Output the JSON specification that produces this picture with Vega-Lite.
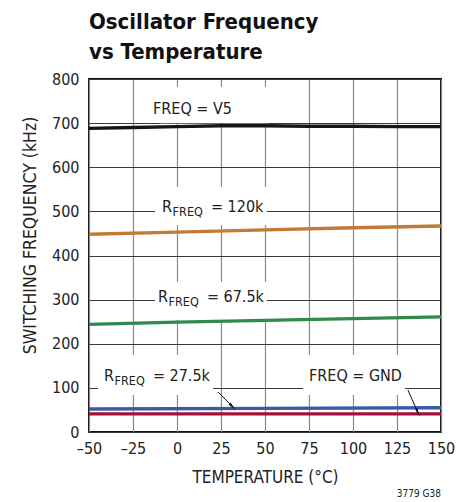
{
  "$schema": "https://vega.github.io/schema/vega-lite/v6.json",
  "width": 352,
  "height": 353,
  "autosize": "none",
  "padding": {"left": 89, "top": 79, "right": 30, "bottom": 70},
  "background": "white",
  "config": {
    "font": "DejaVu Sans Condensed, Roboto, sans-serif",
    "view": {"stroke": "#111", "strokeWidth": 2},
    "axis": {"labelFont": "DejaVu Sans Condensed, Roboto, sans-serif", "titleFont": "DejaVu Sans Condensed, Roboto, sans-serif", "labelColor": "#222", "titleColor": "#222", "titleFontWeight": "normal", "labelFontSize": 16, "titleFontSize": 17, "domain": false, "ticks": false, "labelFlush": false, "labelOverlap": false, "labelBound": false}
  },
  "title": {
    "text": ["Oscillator Frequency", "vs Temperature"],
    "anchor": "start",
    "frame": "group",
    "font": "DejaVu Sans Condensed, Roboto, sans-serif",
    "fontSize": 22,
    "fontWeight": "bold",
    "color": "#111",
    "lineHeight": 30,
    "offset": 7
  },
  "datasets": {
    "curves": [
      {"series": "FREQ = V5", "t": -50, "f": 688},
      {"series": "FREQ = V5", "t": -25, "f": 690},
      {"series": "FREQ = V5", "t": 0, "f": 692},
      {"series": "FREQ = V5", "t": 25, "f": 694},
      {"series": "FREQ = V5", "t": 50, "f": 694},
      {"series": "FREQ = V5", "t": 75, "f": 693},
      {"series": "FREQ = V5", "t": 100, "f": 693},
      {"series": "FREQ = V5", "t": 125, "f": 692},
      {"series": "FREQ = V5", "t": 150, "f": 692},
      {"series": "RFREQ = 120k", "t": -50, "f": 448},
      {"series": "RFREQ = 120k", "t": 0, "f": 453},
      {"series": "RFREQ = 120k", "t": 50, "f": 458},
      {"series": "RFREQ = 120k", "t": 100, "f": 463},
      {"series": "RFREQ = 120k", "t": 150, "f": 467},
      {"series": "RFREQ = 67.5k", "t": -50, "f": 244},
      {"series": "RFREQ = 67.5k", "t": 0, "f": 249},
      {"series": "RFREQ = 67.5k", "t": 50, "f": 253},
      {"series": "RFREQ = 67.5k", "t": 100, "f": 257},
      {"series": "RFREQ = 67.5k", "t": 150, "f": 261},
      {"series": "RFREQ = 27.5k", "t": -50, "f": 52},
      {"series": "RFREQ = 27.5k", "t": 50, "f": 53.5},
      {"series": "RFREQ = 27.5k", "t": 150, "f": 55},
      {"series": "FREQ = GND", "t": -50, "f": 41},
      {"series": "FREQ = GND", "t": 50, "f": 41},
      {"series": "FREQ = GND", "t": 150, "f": 41}
    ],
    "boxes": [
      {"x": -10, "x2": 52, "y": 700, "y2": 782},
      {"x": -12.5, "x2": 51, "y": 469, "y2": 555},
      {"x": -12.5, "x2": 51, "y": 254, "y2": 340},
      {"x": -44.9, "x2": 20.5, "y": 84, "y2": 175},
      {"x": 71.6, "x2": 129.5, "y": 84, "y2": 175}
    ],
    "labels": [
      {"kind": "main", "text": "FREQ = V5", "x": -13.6, "y": 732},
      {"kind": "main", "text": "R", "x": -8.5, "y": 510},
      {"kind": "sub", "text": "FREQ", "x": -2.5, "y": 510},
      {"kind": "main", "text": "= 120k", "x": 19.3, "y": 510},
      {"kind": "main", "text": "R", "x": -10.8, "y": 306},
      {"kind": "sub", "text": "FREQ", "x": -4.8, "y": 306},
      {"kind": "main", "text": "= 67.5k", "x": 17, "y": 306},
      {"kind": "main", "text": "R", "x": -41.5, "y": 127},
      {"kind": "sub", "text": "FREQ", "x": -35.5, "y": 127},
      {"kind": "main", "text": "= 27.5k", "x": -13.7, "y": 127},
      {"kind": "main", "text": "FREQ = GND", "x": 75, "y": 127}
    ],
    "arrows": [
      {"name": "a", "x": 23.3, "y": 90.7, "x2": 31.8, "y2": 56.7},
      {"name": "b", "x": 131.2, "y": 95, "x2": 137, "y2": 43}
    ]
  },
  "layer": [
    {
      "data": {"name": "boxes"},
      "mark": {"type": "rect", "color": "white"},
      "encoding": {
        "x": {"field": "x", "type": "quantitative", "scale": {"domain": [-50, 150], "nice": false}, "axis": {"values": [-50, -25, 0, 25, 50, 75, 100, 125, 150], "labelExpr": "replace(datum.label, /[−-]/, '–')", "grid": true, "gridColor": "#8a8a8a", "gridWidth": 1.2, "labelPadding": 8, "title": "TEMPERATURE (°C)", "titlePadding": 13, "zindex": 0}},
        "x2": {"field": "x2"},
        "y": {"field": "y", "type": "quantitative", "scale": {"domain": [0, 800], "nice": false}, "axis": {"values": [0, 100, 200, 300, 400, 500, 600, 700, 800], "grid": true, "gridColor": "#3a3a3a", "gridWidth": 1, "labelPadding": 10, "title": "SWITCHING FREQUENCY (kHz)", "titlePadding": 12, "titleY": 156, "titleFontSize": 17.5, "zindex": 0}},
        "y2": {"field": "y2"}
      }
    },
    {
      "data": {"name": "curves"},
      "mark": {"type": "line", "strokeWidth": 3.4},
      "encoding": {
        "x": {"field": "t", "type": "quantitative"},
        "y": {"field": "f", "type": "quantitative"},
        "color": {"field": "series", "type": "nominal", "legend": null, "scale": {"domain": ["FREQ = V5", "RFREQ = 120k", "RFREQ = 67.5k", "RFREQ = 27.5k", "FREQ = GND"], "range": ["#161616", "#c27a36", "#2f8a4c", "#3b5aa6", "#a4103c"]}}
      }
    },
    {
      "data": {"name": "labels"},
      "transform": [{"filter": "datum.kind === 'main'"}],
      "mark": {"type": "text", "align": "left", "baseline": "middle", "fontSize": 16, "color": "#222"},
      "encoding": {
        "x": {"field": "x", "type": "quantitative"},
        "y": {"field": "y", "type": "quantitative"},
        "text": {"field": "text"}
      }
    },
    {
      "data": {"name": "labels"},
      "transform": [{"filter": "datum.kind === 'sub'"}],
      "mark": {"type": "text", "align": "left", "baseline": "middle", "fontSize": 12.5, "dy": 5, "color": "#222"},
      "encoding": {
        "x": {"field": "x", "type": "quantitative"},
        "y": {"field": "y", "type": "quantitative"},
        "text": {"field": "text"}
      }
    },
    {
      "data": {"name": "arrows"},
      "mark": {"type": "rule", "strokeWidth": 1, "color": "#111"},
      "encoding": {
        "x": {"field": "x", "type": "quantitative"},
        "y": {"field": "y", "type": "quantitative"},
        "x2": {"field": "x2"},
        "y2": {"field": "y2"}
      }
    },
    {
      "data": {"name": "arrows"},
      "transform": [{"filter": "datum.name === 'a'"}],
      "mark": {"type": "point", "shape": "M0,1L-0.35,-1.2L0.35,-1.2Z", "filled": true, "color": "#111", "opacity": 1, "size": 60, "angle": 315},
      "encoding": {
        "x": {"field": "x2", "type": "quantitative"},
        "y": {"field": "y2", "type": "quantitative"}
      }
    },
    {
      "data": {"name": "arrows"},
      "transform": [{"filter": "datum.name === 'b'"}],
      "mark": {"type": "point", "shape": "M0,1L-0.35,-1.2L0.35,-1.2Z", "filled": true, "color": "#111", "opacity": 1, "size": 60, "angle": 336},
      "encoding": {
        "x": {"field": "x2", "type": "quantitative"},
        "y": {"field": "y2", "type": "quantitative"}
      }
    },
    {
      "data": {"values": [{}]},
      "mark": {"type": "text", "align": "right", "baseline": "middle", "fontSize": 10, "color": "#222", "text": "3779 G38"},
      "encoding": {
        "x": {"datum": 150},
        "y": {"datum": -141}
      }
    }
  ]
}
